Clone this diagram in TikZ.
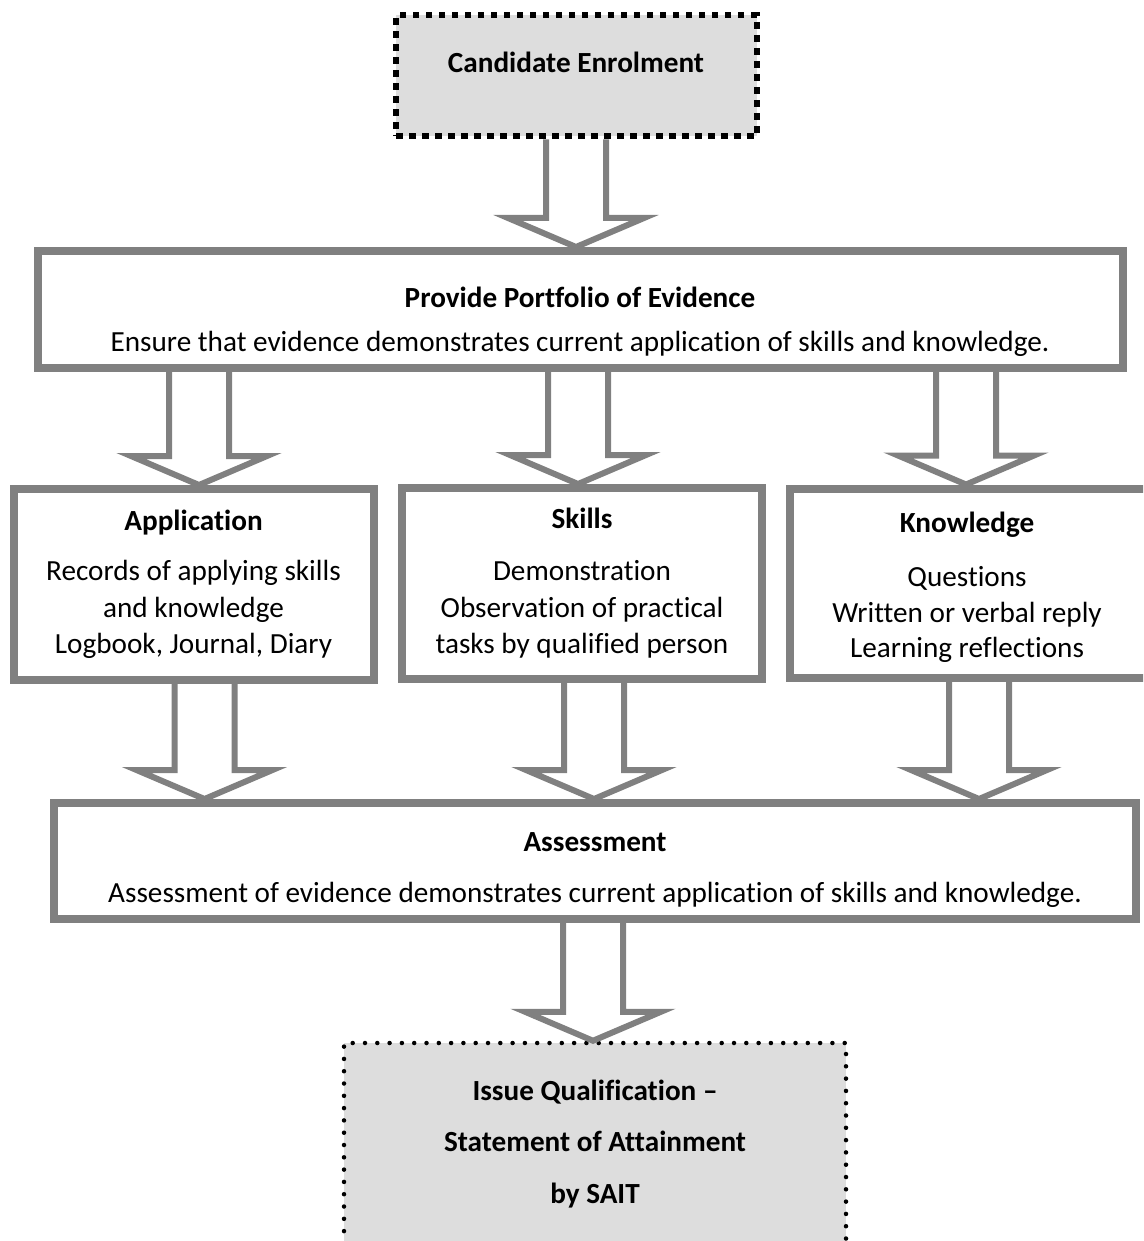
\documentclass[tikz,border=0pt]{standalone}
\usepackage{fontspec}
\setmainfont[Ligatures=NoCommon]{Carlito}
\usetikzlibrary{calc}
\definecolor{boxgray}{RGB}{128,128,128}
\definecolor{fillgray}{RGB}{221,221,221}
\tikzset{
  frame/.style={rectangle, draw=boxgray, line width=8pt, fill=white, inner sep=0pt},
  enrolbox/.style={rectangle, draw=black, line width=6pt, dash pattern=on 6.5pt off 6.5pt, fill=fillgray, inner sep=0pt},
  issuebox/.style={rectangle, draw=black, line width=4.5pt, dash pattern=on 0pt off 12.3pt, line cap=round, fill=fillgray, inner sep=0pt},
  blockarrow/.style={draw=boxgray, line width=6pt, line join=miter},
  txt/.style={anchor=base, inner sep=0pt, font=\fontsize{29.2}{34}\selectfont},
  ttl/.style={anchor=base, inner sep=0pt, font=\fontsize{29.2}{34}\selectfont\bfseries},
}
\newcommand\blockarrow[3]{%
  \draw[blockarrow] let \p1=(#2.south), \p2=(#3.north) in
    ({#1pt-30pt},\y1) -- ({#1pt-30pt},{\y2+29pt}) -- ({#1pt-68pt},{\y2+29pt})
    -- ({#1pt},\y2) -- ({#1pt+68pt},{\y2+29pt}) -- ({#1pt+30pt},{\y2+29pt})
    -- ({#1pt+30pt},\y1);}
\begin{document}
\begin{tikzpicture}[x=1pt,y=-1pt]
\path[use as bounding box, clip] (0,0) rectangle (1143,1241);
\fill[white] (0,0) rectangle (1143,1241);

% boxes
\node[enrolbox, minimum width=360.5pt, minimum height=121pt] (enrol) at (576.25,76) {};
\node[frame, minimum width=1085pt, minimum height=116.5pt] (port) at (580,309.25) {};
\node[frame, minimum width=360pt, minimum height=190.5pt] (app) at (193.5,584.25) {};
\node[frame, minimum width=360pt, minimum height=191pt] (skills) at (582,583.5) {};
\node[frame, minimum width=360pt, minimum height=189pt] (know) at (970,583) {};
\node[frame, minimum width=1082pt, minimum height=116pt] (assess) at (595,861) {};
\node[issuebox, minimum width=502pt, minimum height=247pt] (issue) at (595,1166.5) {};

% texts
\node[ttl] (tenrol) at (576,73) {Candidate Enrolment};
\node[ttl] (tport1) at (580,307) {Provide Portfolio of Evidence};
\node[txt] (tport2) at (580,351) {Ensure that evidence demonstrates current application of skills and knowledge.};

\node[ttl] (tapp1) at (193.5,530) {Application};
\node[txt] (tapp2) at (193.5,580) {Records of applying skills};
\node[txt] (tapp3) at (193.5,617) {and knowledge};
\node[txt] (tapp4) at (193.5,653) {Logbook, Journal, Diary};

\node[ttl] (tsk1) at (582,528) {Skills};
\node[txt] (tsk2) at (582,580) {Demonstration};
\node[txt] (tsk3) at (582,617) {Observation of practical};
\node[txt] (tsk4) at (582,653) {tasks by qualified person};

\node[ttl] (tkn1) at (967,532) {Knowledge};
\node[txt] (tkn2) at (967,586) {Questions};
\node[txt] (tkn3) at (967,622) {Written or verbal reply};
\node[txt] (tkn4) at (967,657) {Learning reflections};

\node[ttl] (tas1) at (595,851) {Assessment};
\node[txt] (tas2) at (595,902) {Assessment of evidence demonstrates current application of skills and knowledge.};

\node[ttl] (tis1) at (595,1100) {Issue Qualification --};
\node[ttl] (tis2) at (595,1151) {Statement of Attainment};
\node[ttl] (tis3) at (595,1203) {by SAIT};

% block arrows
\blockarrow{576}{enrol}{port}
\blockarrow{199}{port}{app}
\blockarrow{578}{port}{skills}
\blockarrow{966}{port}{know}
\blockarrow{204.5}{app}{assess}
\blockarrow{594}{skills}{assess}
\blockarrow{979}{know}{assess}
\blockarrow{593}{assess}{issue}
\end{tikzpicture}
\end{document}
